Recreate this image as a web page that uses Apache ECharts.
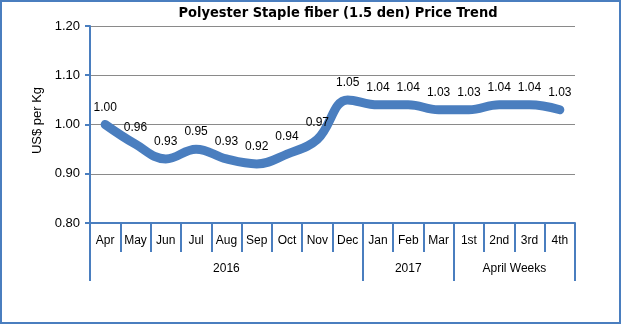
<!DOCTYPE html>
<html><head><meta charset="utf-8">
<script src="https://cdn.jsdelivr.net/npm/echarts@6/dist/echarts.min.js"></script>
<style>html,body{margin:0;padding:0;background:#fff}#c{width:625px;height:325px}</style>
</head><body><div id="c"></div>
<script>
var categories = ['Apr','May','Jun','Jul','Aug','Sep','Oct','Nov','Dec','Jan','Feb','Mar','1st','2nd','3rd','4th'];
var prices = [1.00,0.96,0.93,0.95,0.93,0.92,0.94,0.97,1.05,1.04,1.04,1.03,1.03,1.04,1.04,1.03];
var groupNames = ['2016','2017','April Weeks'];
var groupSizes = [9,3,4];
var yTicks = [0.80,0.90,1.00,1.10,1.20];

var bounds=[0], centers=[], acc=0;
groupSizes.forEach(function(s){centers.push(acc+s/2);acc+=s;bounds.push(acc);});

var blue='#4a7ebf';
var chart=echarts.init(document.getElementById('c'));
chart.setOption({
  animation:false,
  title:{text:'Polyester Staple fiber (1.5 den) Price Trend',left:333,textAlign:'center',top:1,
    textStyle:{fontFamily:'DejaVu Sans Condensed, Liberation Sans Narrow, sans-serif',fontWeight:'bold',fontSize:14.5,color:'#000'}},
  grid:{left:90,right:50,top:26,bottom:102},
  xAxis:[{
    type:'category',data:categories,boundaryGap:true,position:'bottom',
    axisLine:{lineStyle:{color:blue,width:2}},
    axisTick:{show:true,alignWithLabel:false,length:29,lineStyle:{color:blue,width:2}},
    axisLabel:{color:'#000',fontSize:12,fontFamily:'Liberation Sans, Arial, sans-serif',margin:12,interval:0}
  },{
    type:'value',min:0,max:categories.length,position:'bottom',
    axisLine:{show:false},splitLine:{show:false},
    axisTick:{show:true,customValues:bounds,length:58,lineStyle:{color:blue,width:2}},
    axisLabel:{customValues:centers,margin:40,color:'#000',fontSize:12,fontFamily:'Liberation Sans, Arial, sans-serif',
      formatter:function(v){var i=centers.indexOf(v);return i>=0?groupNames[i]:'';}}
  }],
  yAxis:{
    type:'value',min:yTicks[0],max:yTicks[yTicks.length-1],interval:0.1,
    name:'US$ per Kg',nameLocation:'middle',nameGap:40,nameRotate:90,
    nameTextStyle:{color:'#000',fontSize:13,fontFamily:'Liberation Sans, Arial, sans-serif',padding:[0,0,0,8]},
    axisLine:{show:true,lineStyle:{color:blue,width:2}},
    axisTick:{show:true,length:5,lineStyle:{color:blue,width:2}},
    axisLabel:{color:'#000',fontSize:13,fontFamily:'Liberation Sans, Arial, sans-serif',margin:10,
      formatter:function(v){return v.toFixed(2);}},
    splitLine:{show:true,lineStyle:{color:'#8a8a8a',width:1}}
  },
  series:[{
    type:'line',data:prices,xAxisIndex:0,smooth:0.4,showSymbol:true,symbol:'circle',symbolSize:0,
    itemStyle:{color:blue},
    lineStyle:{color:blue,width:9,cap:'round'},
    label:{show:true,position:'top',distance:11,color:'#000',fontSize:12,fontFamily:'Liberation Sans, Arial, sans-serif',
      formatter:function(p){return p.value.toFixed(2);}}
  }],
  graphic:[{type:'rect',shape:{x:1,y:1,width:619,height:322},style:{fill:'none',stroke:blue,lineWidth:2},silent:true}]
});
</script></body></html>
